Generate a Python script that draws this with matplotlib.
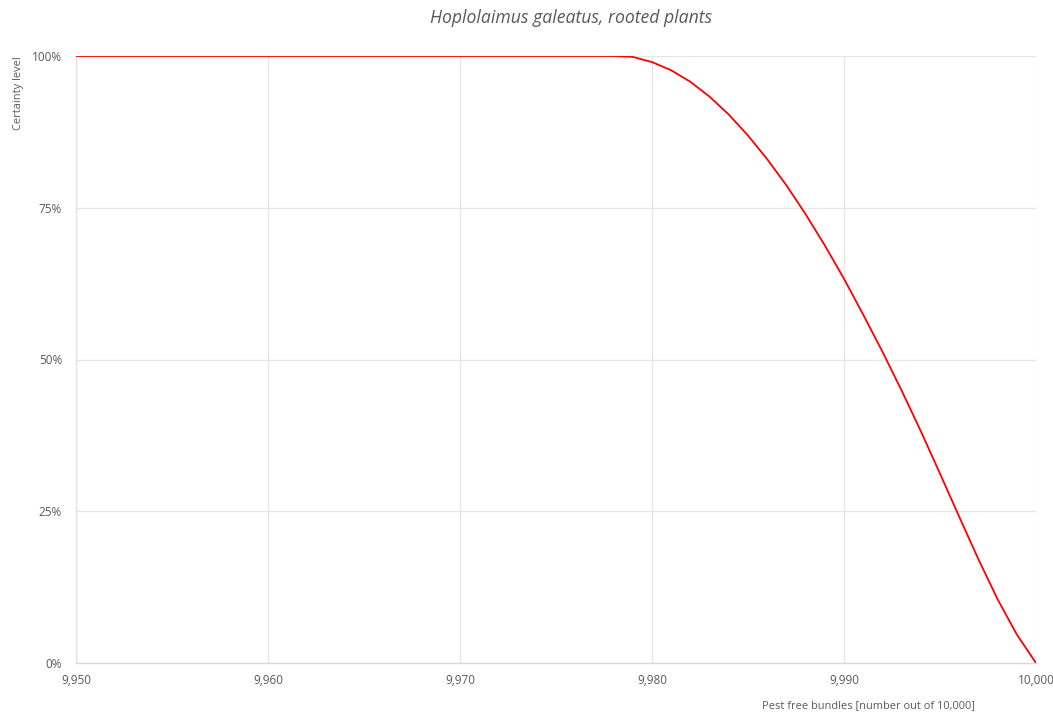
import matplotlib
matplotlib.use("Agg")
import matplotlib.pyplot as plt
from matplotlib.ticker import FuncFormatter

# Data
x_flat = [9950, 9960, 9970, 9978]
y_flat = [100, 100, 100, 100]
x_curve = [9979, 9980, 9981, 9982, 9983, 9984, 9985, 9986, 9987, 9988, 9989,
           9990, 9991, 9992, 9993, 9994, 9995, 9996, 9997, 9998, 9999, 10000]
y_curve = [99.85, 99.0, 97.65, 95.75, 93.3, 90.35, 86.9, 83.0, 78.7, 73.95, 68.8,
           63.3, 57.4, 51.3, 44.9, 38.2, 31.2, 24.1, 17.1, 10.5, 4.7, 0.0]
x_ticks = [9950, 9960, 9970, 9980, 9990, 10000]
y_ticks = [0, 25, 50, 75, 100]

xs = x_flat + x_curve
ys = y_flat + y_curve

plt.rcParams['font.family'] = ['Open Sans', 'DejaVu Sans']

fig = plt.figure(figsize=(10.53, 7.13), dpi=100)
ax = fig.add_axes([76/1053, 1-663/713, (1036-76)/1053, (663-56)/713])

ax.plot(xs, ys, color='#FF0000', lw=1.3, solid_joinstyle='round', zorder=3)

ax.set_xlim(9950, 10000)
ax.set_ylim(0, 100)
ax.set_xticks(x_ticks)
ax.set_yticks(y_ticks)
ax.xaxis.set_major_formatter(FuncFormatter(lambda v, p: f"{int(v):,}"))
ax.yaxis.set_major_formatter(FuncFormatter(lambda v, p: f"{int(v)}%"))
ax.grid(True, color='#e6e6e6', lw=0.9)
ax.set_axisbelow(True)
for s in ['top', 'right']:
    ax.spines[s].set_visible(False)
ax.spines['left'].set_color('#e0e0e0')
ax.spines['bottom'].set_color('#d9d9d9')
ax.spines['left'].set_linewidth(0.9)
ax.spines['bottom'].set_linewidth(1.0)
ax.tick_params(length=0, labelsize=8.5, labelcolor='#595959')
ax.tick_params(axis='x', pad=8)
ax.tick_params(axis='y', pad=10)

fig.text(571/1053, 1-18/713, "Hoplolaimus galeatus, rooted plants", ha='center', va='center',
         fontsize=12.7, style='italic', color='#595959')
fig.text(18/1053, 1-56/713, "Certainty level", rotation=90, ha='center', va='top',
         fontsize=7.9, color='#595959')
fig.text(975/1053, 1-706/713, "Pest free bundles [number out of 10,000]", ha='right', va='center',
         fontsize=7.9, color='#595959')

fig.savefig("out.png", dpi=100)
